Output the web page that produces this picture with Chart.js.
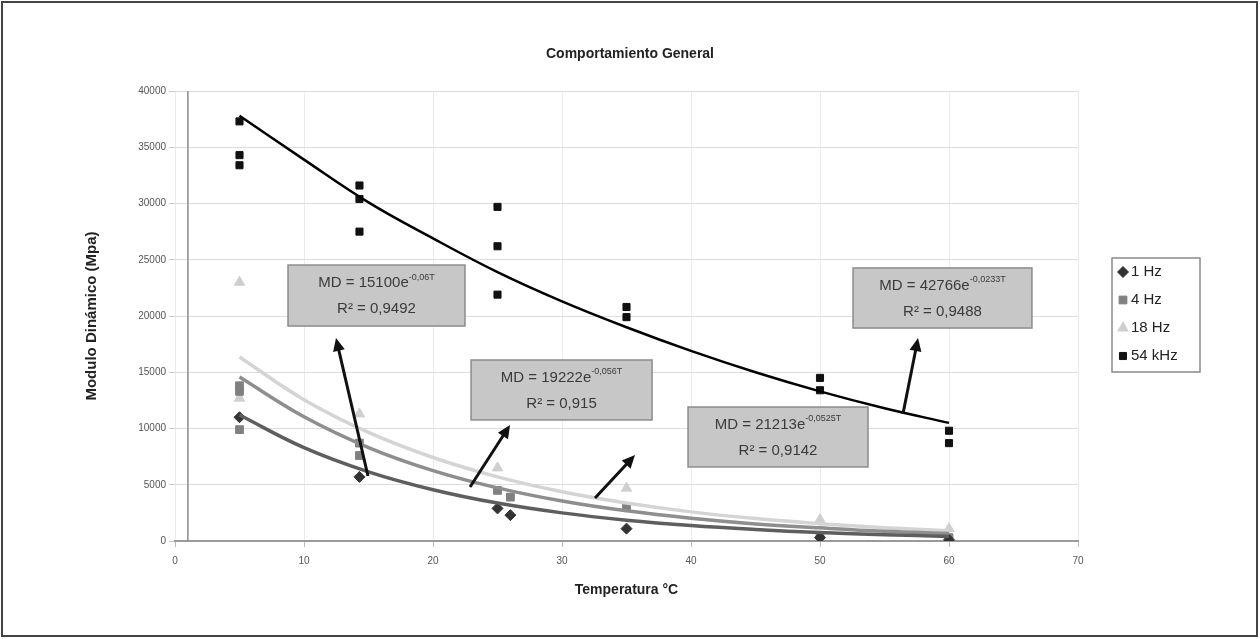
<!DOCTYPE html>
<html>
<head>
<meta charset="utf-8">
<script src="https://cdn.jsdelivr.net/npm/chart.js@4.4.0/dist/chart.umd.min.js"></script>
<style>
  body { margin: 0; background: #fff; }
  #wrap { width: 1260px; height: 639px; }
</style>
</head>
<body>
<div id="wrap"><canvas id="myChart" width="1260" height="639"></canvas></div>
<script>
// Measured points (temperature, modulus) per frequency
const hz1Temp = [5, 14.3, 25, 26, 35, 50, 60];
const hz1Val = [11000, 5700, 2900, 2300, 1100, 300, 100];

const hz4Temp = [5, 5, 5, 14.3, 14.3, 25, 26, 35, 50, 60];
const hz4Val = [13800, 13300, 9900, 8700, 7600, 4500, 3900, 3000, 500, 300];

const hz18Temp = [5, 5, 14.3, 25, 35, 50, 60];
const hz18Val = [23000, 12700, 11300, 6500, 4700, 1900, 1100];

const khz54Temp = [5, 5, 5, 14.3, 14.3, 14.3, 25, 25, 25, 35, 35, 50, 50, 60, 60];
const khz54Val = [37300, 34300, 33400, 31600, 30400, 27500, 29700, 26200, 21900, 20800, 19900, 14500, 13400, 9800, 8700];

// Exponential trendlines
const trendTemp = [5, 10, 15, 20, 25, 30, 35, 40, 45, 50, 55, 60];
const trend1Hz = [11200, 8300, 6150, 4560, 3370, 2500, 1850, 1370, 1020, 750, 560, 410];
const trend4Hz = [14570, 11040, 8310, 6260, 4720, 3550, 2680, 2020, 1520, 1170, 870, 670];
const trend18Hz = [16360, 12560, 9650, 7420, 5700, 4380, 3380, 2590, 1990, 1540, 1180, 910];
const trend54kHz = [37800, 33900, 30100, 26900, 23900, 21300, 19000, 16900, 15000, 13300, 11800, 10500];

const seriesNames = ['1 Hz', '4 Hz', '18 Hz', '54 kHz'];
const xTicks = [0, 10, 20, 30, 40, 50, 60, 70];

// Equation boxes: [T left, T right, value top, value bottom]
const eqMain = ['MD = 15100e', 'MD = 19222e', 'MD = 21213e', 'MD = 42766e'];
const eqExp = ['-0,06T', '-0,056T', '-0,0525T', '-0,0233T'];
const eqR2 = ['R\u00b2 = 0,9492', 'R\u00b2 = 0,915', 'R\u00b2 = 0,9142', 'R\u00b2 = 0,9488'];
const eqBox = [[8.76, 22.48, 24530, 19110], [22.95, 36.98, 16090, 10760], [39.77, 53.72, 11910, 6580], [52.56, 66.43, 24270, 18930]];
// Arrows: [tail T, tail value, head T, head value]
const eqArrow = [[14.96, 5780, 12.48, 18040], [22.87, 4800, 25.97, 10310], [32.56, 3820, 35.66, 7640], [56.43, 11290, 57.6, 18040]];

function pts(xs, ys) {
    return xs.map((t, i) => ({x: t, y: ys[i]}));
}

const FONT = "'Liberation Sans', Arial, sans-serif";

const markerStyle = [
    {style: 'rectRot', color: '#333333', r: 5.5},
    {style: 'rect', color: '#808080', r: 5.5},
    {style: 'triangle', color: '#cfcfcf', r: 6},
    {style: 'rect', color: '#111111', r: 5}
];

function drawArrow(ctx, x1, y1, x2, y2) {
    const a = Math.atan2(y2 - y1, x2 - x1);
    ctx.strokeStyle = '#111';
    ctx.fillStyle = '#111';
    ctx.lineWidth = 3;
    ctx.beginPath();
    ctx.moveTo(x1, y1);
    ctx.lineTo(x2 - 6 * Math.cos(a), y2 - 6 * Math.sin(a));
    ctx.stroke();
    ctx.beginPath();
    ctx.moveTo(x2, y2);
    ctx.lineTo(x2 - 13 * Math.cos(a) + 6 * Math.sin(a), y2 - 13 * Math.sin(a) - 6 * Math.cos(a));
    ctx.lineTo(x2 - 13 * Math.cos(a) - 6 * Math.sin(a), y2 - 13 * Math.sin(a) + 6 * Math.cos(a));
    ctx.closePath();
    ctx.fill();
}

const overlay = {
    id: 'overlay',
    afterDatasetsDraw(chart) {
        const {ctx, chartArea, scales: {x, y}} = chart;
        ctx.save();
        // vertical axis line
        ctx.strokeStyle = '#8a8a8a';
        ctx.lineWidth = 1.5;
        ctx.beginPath();
        ctx.moveTo(x.getPixelForValue(1), chartArea.top);
        ctx.lineTo(x.getPixelForValue(1), chartArea.bottom);
        ctx.stroke();

        eqArrow.forEach(a => {
            drawArrow(ctx, x.getPixelForValue(a[0]), y.getPixelForValue(a[1]),
                x.getPixelForValue(a[2]), y.getPixelForValue(a[3]));
        });

        eqBox.forEach((b, i) => {
            const l = x.getPixelForValue(b[0]), r = x.getPixelForValue(b[1]);
            const t = y.getPixelForValue(b[2]), btm = y.getPixelForValue(b[3]);
            ctx.fillStyle = '#c7c7c7';
            ctx.fillRect(l, t, r - l, btm - t);
            ctx.strokeStyle = '#8c8c8c';
            ctx.lineWidth = 1.5;
            ctx.strokeRect(l, t, r - l, btm - t);
            const cx = (l + r) / 2;
            ctx.fillStyle = '#3a3a3a';
            ctx.textBaseline = 'middle';
            ctx.font = '15px ' + FONT;
            const w1 = ctx.measureText(eqMain[i]).width;
            ctx.font = '9px ' + FONT;
            const w2 = ctx.measureText(eqExp[i]).width;
            const sx = cx - (w1 + w2) / 2;
            ctx.textAlign = 'left';
            ctx.font = '15px ' + FONT;
            ctx.fillText(eqMain[i], sx, t + 18);
            ctx.font = '9px ' + FONT;
            ctx.fillText(eqExp[i], sx + w1, t + 12);
            ctx.font = '15px ' + FONT;
            ctx.textAlign = 'center';
            ctx.fillText(eqR2[i], cx, t + 44);
        });
        ctx.restore();
    },
    afterDraw(chart) {
        const {ctx} = chart;
        ctx.save();
        // legend box
        ctx.strokeStyle = '#8a8a8a';
        ctx.lineWidth = 1.5;
        ctx.strokeRect(1112, 258, 88, 114);
        seriesNames.forEach((name, i) => {
            const yy = 272 + i * 28;
            const m = markerStyle[i];
            ctx.fillStyle = m.color;
            ctx.strokeStyle = m.color;
            ctx.lineWidth = 1;
            Chart.helpers.drawPoint(ctx, {pointStyle: m.style, radius: m.r, borderWidth: 1, rotation: 0}, 1123, yy);
            ctx.fillStyle = '#222';
            ctx.font = '15px ' + FONT;
            ctx.textAlign = 'left';
            ctx.textBaseline = 'middle';
            ctx.fillText(name, 1131, yy);
        });
        // outer frame
        ctx.strokeStyle = '#444';
        ctx.lineWidth = 2;
        ctx.strokeRect(2, 2, 1255, 634);
        ctx.restore();
    }
};

function scatterSet(label, xs, ys, m) {
    return {
        type: 'scatter',
        label: label,
        data: pts(xs, ys),
        pointStyle: m.style,
        pointRadius: m.r,
        backgroundColor: m.color,
        borderColor: m.color,
        borderWidth: 1,
        showLine: false
    };
}

function trendSet(label, ys, color, width) {
    return {
        type: 'line',
        label: label,
        data: pts(trendTemp, ys),
        borderColor: color,
        borderWidth: width,
        pointRadius: 0,
        fill: false,
        tension: 0.4
    };
}

const myChart = new Chart(
    document.getElementById('myChart'),
    {
        type: 'scatter',
        data: {
            datasets: [
                trendSet('Exp 54 kHz', trend54kHz, '#000000', 2.5),
                trendSet('Exp 1 Hz', trend1Hz, '#5e5e5e', 3.5),
                trendSet('Exp 4 Hz', trend4Hz, '#8e8e8e', 3.5),
                trendSet('Exp 18 Hz', trend18Hz, '#d4d4d4', 3.5),
                scatterSet(seriesNames[0], hz1Temp, hz1Val, markerStyle[0]),
                scatterSet(seriesNames[1], hz4Temp, hz4Val, markerStyle[1]),
                scatterSet(seriesNames[2], hz18Temp, hz18Val, markerStyle[2]),
                scatterSet(seriesNames[3], khz54Temp, khz54Val, markerStyle[3])
            ]
        },
        options: {
            responsive: false,
            animation: false,
            layout: {padding: 0},
            plugins: {
                legend: {display: false},
                tooltip: {enabled: false},
                title: {
                    display: true,
                    text: 'Comportamiento General',
                    color: '#222',
                    font: {family: FONT, size: 14, weight: 'bold'},
                    padding: {top: 46, bottom: 28.2}
                }
            },
            scales: {
                x: {
                    type: 'linear',
                    min: 0,
                    max: 70,
                    afterFit(s) { s.height = 98; },
                    afterBuildTicks(s) { s.ticks = xTicks.map(v => ({value: v})); },
                    grid: {color: '#ececec', lineWidth: 1, tickLength: 6, tickColor: '#bbbbbb'},
                    border: {color: '#9a9a9a', width: 2},
                    ticks: {color: '#555', font: {family: FONT, size: 10}, padding: 8},
                    title: {
                        display: true,
                        text: 'Temperatura \u00b0C',
                        color: '#222',
                        font: {family: FONT, size: 14, weight: 'bold'},
                        padding: {top: 0, bottom: 40.6}
                    }
                },
                y: {
                    min: 0,
                    max: 40000,
                    afterFit(s) { s.width = 175; },
                    grid: {color: '#dedede', lineWidth: 1, tickLength: 6, tickColor: '#cccccc'},
                    border: {display: false},
                    ticks: {
                        stepSize: 5000,
                        color: '#555',
                        font: {family: FONT, size: 10},
                        padding: 3,
                        callback: v => String(v)
                    },
                    title: {
                        display: true,
                        text: 'Modulo Din\u00e1mico (Mpa)',
                        color: '#222',
                        font: {family: FONT, size: 15, weight: 'bold'},
                        padding: {top: 83, bottom: 0}
                    }
                },
                // empty right-hand band that holds the legend
                yRight: {
                    position: 'right',
                    min: 0,
                    max: 40000,
                    afterFit(s) { s.width = 182; },
                    grid: {drawOnChartArea: false, drawTicks: false},
                    border: {display: false},
                    ticks: {display: false}
                }
            }
        },
        plugins: [overlay]
    }
);
</script>
</body>
</html>
